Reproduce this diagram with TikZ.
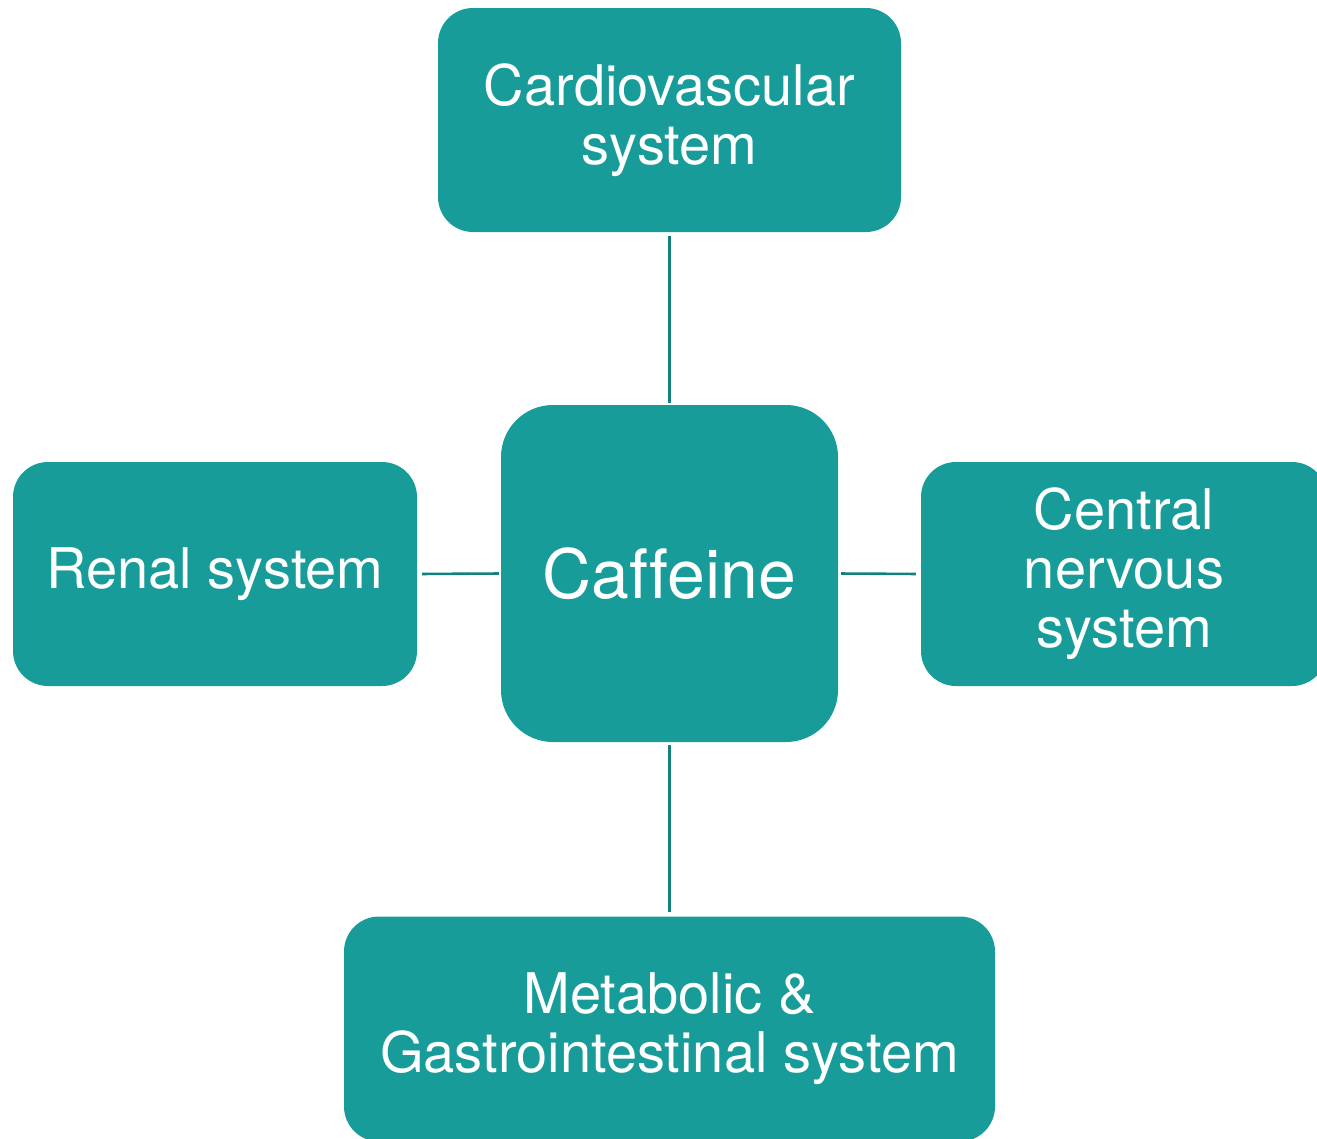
\documentclass[tikz,border=0pt]{standalone}
\usepackage{fontspec}
\setmainfont[Ligatures=NoCommon]{TeX Gyre Heros}
\definecolor{boxfill}{HTML}{179C9A}
\definecolor{linecol}{HTML}{13807E}
\begin{document}
\begin{tikzpicture}[x=1pt,y=-1pt,
  sysbox/.style={fill=boxfill, draw=none, rounded corners=35pt, inner sep=0pt,
    text=white, align=center, font=\fontsize{56}{59}\selectfont},
  conn/.style={draw=linecol, line width=2.6pt}]
\useasboundingbox (0,0) rectangle (1317,1138);
\node[sysbox, minimum width=463pt, minimum height=224pt] (card) at (669.5,120) {Cardiovascular\\system};
\node[sysbox, rounded corners=52pt, minimum width=337pt, minimum height=337pt, font=\fontsize{68}{72}\selectfont] (caf) at (669.5,573.5) {Caffeine};
\node[sysbox, minimum width=404pt, minimum height=224pt] (renal) at (215,574) {Renal system};
\node[sysbox, minimum width=406pt, minimum height=224pt] (cns) at (1124,574) {Central\\nervous\\system};
\node[sysbox, minimum width=651pt, minimum height=225pt] (meta) at (669.5,1029) {Metabolic \&\\Gastrointestinal system};
\draw[conn, shorten <=4pt, shorten >=2pt] (card.south) -- (caf.north);
\draw[conn, shorten <=3pt, shorten >=4pt] (caf.south) -- (meta.north);
\draw[conn, shorten <=5pt, shorten >=2pt] (renal.east) -- (caf.west);
\draw[conn, shorten <=3pt, shorten >=5pt] (caf.east) -- (cns.west);
\end{tikzpicture}
\end{document}
